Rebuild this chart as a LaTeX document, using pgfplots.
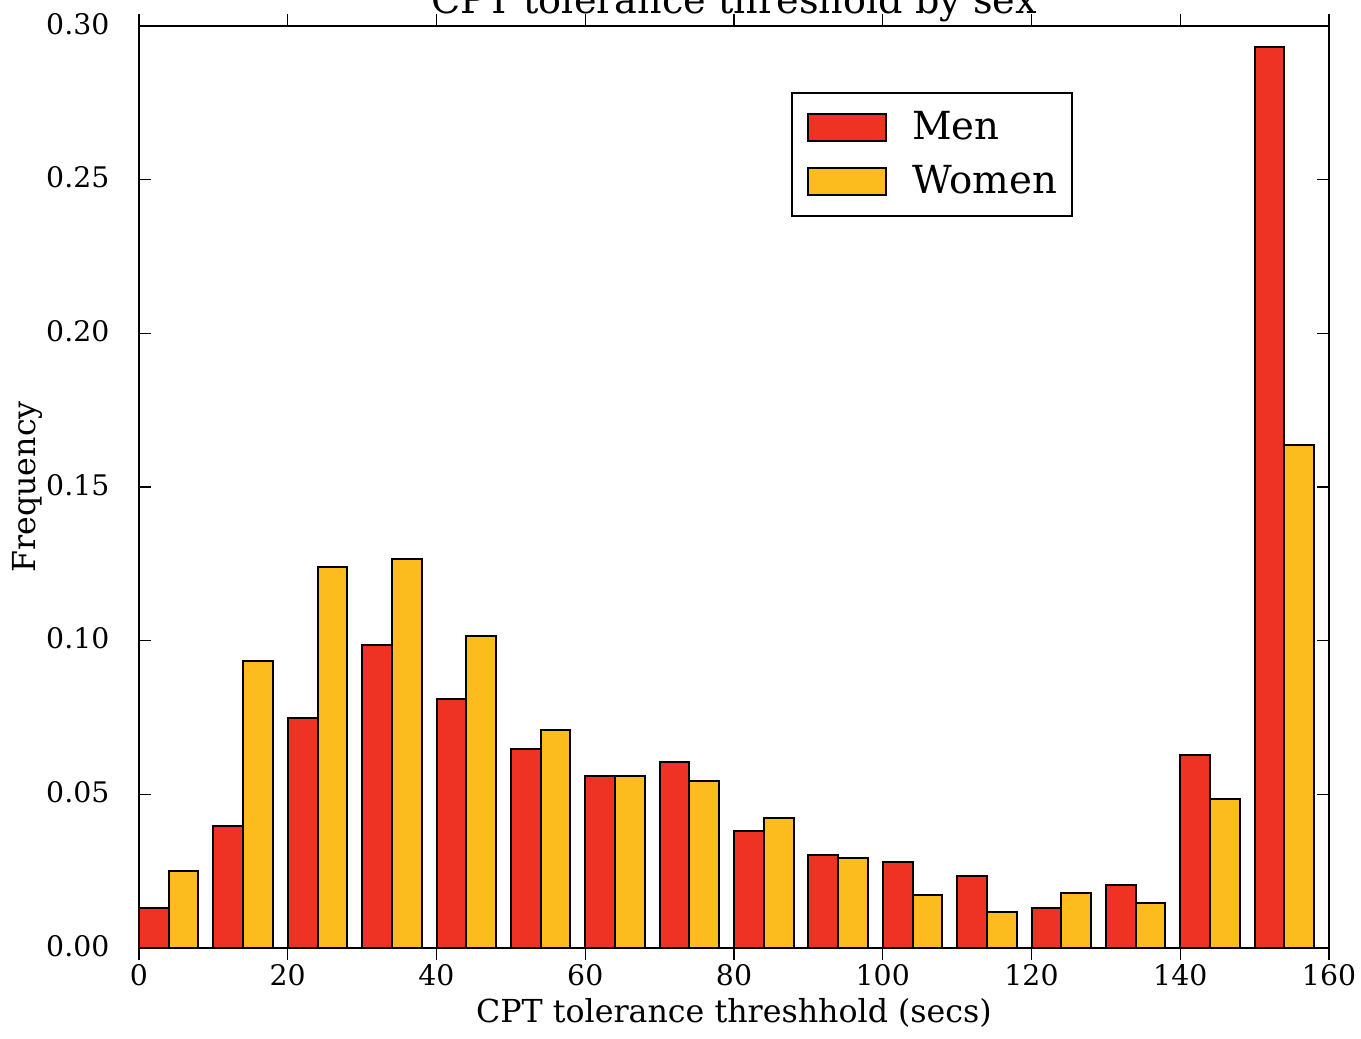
\documentclass[border=0pt]{standalone}
\usepackage{pgfplots}
\pgfplotsset{compat=1.18}
\usepackage{fontspec}
\setmainfont{DejaVu Serif}
\definecolor{menred}{RGB}{238,50,36}
\definecolor{womyel}{RGB}{253,188,30}
\begin{document}
\begin{tikzpicture}
\begin{axis}[
  name=ax,
  scale only axis,
  width=357pt, height=276.6pt,
  xmin=0, xmax=160, ymin=0, ymax=0.30,
  xtick={0,20,40,60,80,100,120,140,160},
  ytick={0,0.05,0.10,0.15,0.20,0.25,0.30},
  scaled y ticks=false,
  yticklabel style={/pgf/number format/fixed, /pgf/number format/fixed zerofill, /pgf/number format/precision=2, /pgf/number format/assume math mode=true},
  xticklabel style={/pgf/number format/assume math mode=true},
  tick label style={font=\fontsize{8.5}{10}\selectfont},
  yticklabel style={inner sep=0pt, xshift=-8.7pt, yshift=0.6pt},
  xticklabel style={inner sep=0pt, yshift=-1pt},
  tick align=inside,
  major tick length=3.6pt,
  tick style={black, line width=0.4pt},
  axis line style={line width=0.7pt},
  xlabel={CPT tolerance threshhold (secs)},
  xlabel style={at={(axis description cs:0.5,-0.0813)}, anchor=base, inner sep=0pt, font=\fontsize{9.5}{11}\selectfont},
  ylabel={Frequency},
  ylabel style={at={(axis description cs:-0.0866,0.5)}, anchor=base, inner sep=0pt, font=\fontsize{9.5}{11}\selectfont},
  ybar,
  legend image code/.code={\draw[#1, line width=0.6pt] (0pt,-4.05pt) rectangle (23.4pt,4.05pt);},
  legend style={at={(0.548,0.928)}, anchor=north west, draw=black, line width=0.6pt,
    font=\fontsize{11.6}{14}\selectfont, inner xsep=4.5pt, inner ysep=5.3pt,
    nodes={inner sep=0pt}, column sep=7.5pt, row sep=6.2pt},
  legend cell align=left,
]
\addplot[fill=menred, draw=black, line width=0.6pt, bar width=4, bar shift=0pt] coordinates {
(2,0.0130) (12,0.0398) (22,0.0747) (32,0.0985) (42,0.0810) (52,0.0647) (62,0.0561) (72,0.0605)
(82,0.0381) (92,0.0304) (102,0.0279) (112,0.0235) (122,0.0129) (132,0.0204) (142,0.0629) (152,0.2932)};
\addlegendentry{Men}
\addplot[fill=womyel, draw=black, line width=0.6pt, bar width=4, bar shift=0pt] coordinates {
(6,0.0251) (16,0.0935) (26,0.1241) (36,0.1267) (46,0.1015) (56,0.0709) (66,0.0561) (76,0.0542)
(86,0.0422) (96,0.0292) (106,0.0172) (116,0.0116) (126,0.0179) (136,0.0147) (146,0.0484) (156,0.1637)};
\addlegendentry{Women}
\end{axis}
\node[anchor=base, inner sep=0pt, font=\fontsize{11.45}{13}\selectfont] at ([yshift=3.9pt]ax.north) {CPT tolerance threshold by sex};
\pgfresetboundingbox
\useasboundingbox ([xshift=-41.7pt,yshift=-27pt]ax.south west) rectangle ([xshift=9.6pt,yshift=7.8pt]ax.north east);
\end{tikzpicture}
\end{document}
